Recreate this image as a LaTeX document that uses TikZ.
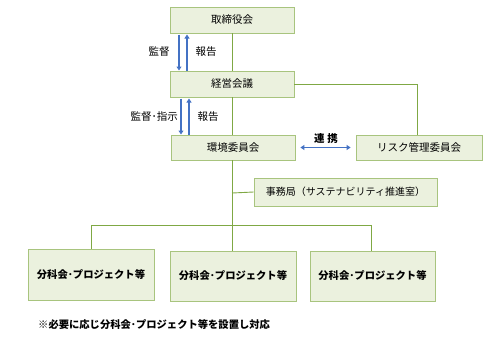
\documentclass[tikz,border=0pt]{standalone}
\usepackage{fontspec}
\setmainfont{Noto Sans CJK JP}
\usetikzlibrary{shadows,arrows.meta}
\definecolor{boxfill}{HTML}{EBF1DE}
\definecolor{boxdraw}{HTML}{A8C47E}
\definecolor{linegreen}{HTML}{7FA844}
\definecolor{arrblue}{HTML}{4472C4}
\tikzset{
  orgbox/.style={draw=boxdraw, fill=boxfill, line width=0.8pt, inner sep=0pt,
    drop shadow={opacity=0.25, shadow xshift=1.2pt, shadow yshift=-1.2pt},
    font=\fontsize{10.5}{12}\selectfont},
  boldbox/.style={orgbox, font=\fontsize{10.3}{12}\selectfont\bfseries},
  conn/.style={draw=linegreen, line width=0.9pt},
  barr/.style={draw=arrblue, line width=1.6pt, -{Triangle[length=4pt,width=5pt]}},
  lbl/.style={font=\fontsize{10.5}{12}\selectfont, inner sep=0pt}
}
\begin{document}
\begin{tikzpicture}[x=1pt,y=-1pt]
\useasboundingbox (0,0) rectangle (494,341);
\coordinate (br) at (417,84);
\coordinate (jm) at (232,193);
\coordinate (hl) at (91,225);
\coordinate (hm) at (232,225);
\coordinate (hr) at (371,225);
% boxes
\node[orgbox, minimum width=124pt, minimum height=26pt] (tori) at (232,20) {取締役会};
\node[orgbox, minimum width=124pt, minimum height=26pt] (keiei) at (232,84) {経営会議};
\node[orgbox, minimum width=124pt, minimum height=25pt] (kankyo) at (233,147.5) {環境委員会};
\node[orgbox, minimum width=126pt, minimum height=25pt] (risk) at (419,147.5) {リスク管理委員会};
\node[orgbox, minimum width=183pt, minimum height=28pt, font=\fontsize{10}{12}\selectfont] (jimu) at (345.5,192) {事務局（サステナビリティ推進室）};
\node[boldbox, minimum width=126pt, minimum height=51pt] (b1) at (91,274.5) {分科会･プロジェクト等};
\node[boldbox, minimum width=126pt, minimum height=50pt] (b2) at (233,276) {分科会･プロジェクト等};
\node[boldbox, minimum width=125pt, minimum height=50pt] (b3) at (372.5,276) {分科会･プロジェクト等};
% lines
\draw[conn] (tori.south) -- (keiei.north);
\draw[conn] (keiei.south -| tori.south) -- (kankyo.north -| tori.south);
\draw[conn] (keiei.east) -- (br) -- (risk.north -| br);
\draw[conn] (kankyo.south -| tori.south) -- (hm);
\draw[conn] (jm) -- (jimu.west);
\draw[conn] (b1.north -| hl) -- (hl) -- (hr) -- (b3.north -| hr);
\draw[conn] (hm) -- (b2.north -| hm);
% blue arrows
\draw[barr] (179,34.5) -- (179,70.5);
\draw[barr] (187,70.5) -- (187,34.5);
\draw[barr] (181,98.5) -- (181,134.5);
\draw[barr] (189,134.5) -- (189,98.5);
\draw[draw=arrblue, line width=1.3pt, {Triangle[length=4pt,width=5pt]}-{Triangle[length=4pt,width=5pt]}] ([xshift=5pt]kankyo.east) -- ([xshift=-5pt]risk.west);
% labels
\node[lbl] (l1) at (159,52) {監督};
\node[lbl] (l2) at (206,52) {報告};
\node[lbl, anchor=east] (l3) at (178,117) {監督･指示};
\node[lbl] (l4) at (208,117) {報告};
\node[lbl, font=\fontsize{10.5}{12}\selectfont\bfseries] (l5) at (326,138.5) {連\hspace{3pt}携};
\node[lbl, anchor=west, font=\fontsize{10.3}{12}\selectfont\bfseries] (note) at (38,325) {※必要に応じ分科会･プロジェクト等を設置し対応};
\end{tikzpicture}
\end{document}
